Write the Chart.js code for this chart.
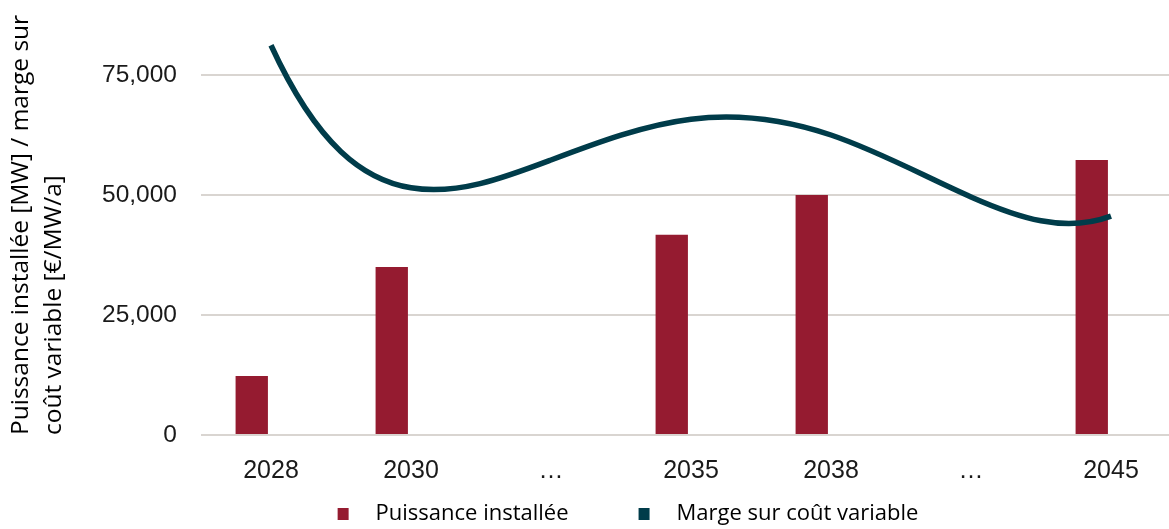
<!DOCTYPE html>
<html><head><meta charset="utf-8">
<script src="https://cdn.jsdelivr.net/npm/chart.js@4.4.1/dist/chart.umd.min.js"></script>
<style>
html,body{margin:0;padding:0;background:#fff;overflow:hidden;width:1169px;height:529px}
#wrap{position:absolute;left:0;top:0;width:1181px;height:535px}
</style>
</head><body><div id="wrap"><canvas id="c" width="1181" height="535"></canvas></div>
<script>
// ---- data ----
const categories = ['2028', '2030', '…', '2035', '2038', '…', '2045'];
const puissanceInstallee = [12300, 35000, null, 41700, 50000, null, 57300];
const margeCoutVariable = [81200, 51500, 57300, 65800, 62500, 49600, 45600];
const yTickValues = [0, 25000, 50000, 75000];
const yMax = 87500;
const seriesNames = ['Puissance installée', 'Marge sur coût variable'];
const axisTitle = ['Puissance installée [MW] / marge sur', 'coût variable [€/MW/a]'];

const BAR_COLOR = '#951b30';
const LINE_COLOR = '#003c4a';
const GRID_COLOR = '#d9d5d1';
const TEXT_COLOR = '#1a1a1a';

// legend marker: small square with space on its left to reproduce the spacing
function legendMarker(color) {
  const c = document.createElement('canvas');
  c.width = 97; c.height = 12;
  const g = c.getContext('2d');
  g.fillStyle = color;
  g.fillRect(70, 0, 11, 12);
  return c;
}

// smooth line like a polynomial trend through the points (tangents of the interpolating polynomial)
const polySmooth = {
  id: 'polySmooth',
  beforeDatasetDraw(chart, args) {
    const meta = args.meta;
    if (meta.type !== 'line' || !meta.dataset) return;
    const pts = meta.data;
    const n = pts.length;
    const xs = pts.map(p => p.x), ys = pts.map(p => p.y);
    const w = xs.map((xi, i) => {
      let prod = 1;
      for (let k = 0; k < n; k++) if (k !== i) prod *= (xi - xs[k]);
      return 1 / prod;
    });
    const d = xs.map((xi, i) => {
      let s = 0;
      for (let j = 0; j < n; j++) if (j !== i) s += (w[j] / w[i]) / (xi - xs[j]) * (ys[j] - ys[i]);
      return s;
    });
    for (let i = 0; i < n; i++) {
      const p = pts[i];
      const hp = i > 0 ? (xs[i] - xs[i - 1]) / 3 : 0;
      const hn = i < n - 1 ? (xs[i + 1] - xs[i]) / 3 : 0;
      p.cp1x = xs[i] - hp; p.cp1y = ys[i] - d[i] * hp;
      p.cp2x = xs[i] + hn; p.cp2y = ys[i] + d[i] * hn;
    }
    meta.dataset._pointsUpdated = true;
    meta.dataset._path = undefined;
  }
};

new Chart(document.getElementById('c'), {
  data: {
    labels: categories,
    datasets: [
      {
        type: 'bar', label: seriesNames[0], data: puissanceInstallee,
        backgroundColor: BAR_COLOR, borderWidth: 0, order: 1
      },
      {
        type: 'line', label: seriesNames[1], data: margeCoutVariable,
        borderColor: LINE_COLOR, backgroundColor: LINE_COLOR, borderWidth: 5.5,
        pointRadius: 0, pointHoverRadius: 0, tension: 0.4, fill: false, order: 0
      },
      {
        type: 'bar', label: '', data: categories.map(() => null),
        backgroundColor: 'rgba(0,0,0,0)', borderWidth: 0, order: 2
      }
    ]
  },
  options: {
    responsive: false,
    animation: false,
    layout: { padding: { left: 5, top: 15, right: 0, bottom: 0 } },
    datasets: { bar: { categoryPercentage: 0.55, barPercentage: 0.84 } },
    plugins: {
      tooltip: { enabled: false },
      legend: {
        position: 'bottom',
        labels: {
          font: { family: 'Open Sans', size: 22, weight: '500' },
          color: '#000',
          usePointStyle: true,
          pointStyleWidth: 97,
          padding: 0,
          sort: (a, b) => a.datasetIndex - b.datasetIndex,
          generateLabels(chart) {
            const items = Chart.defaults.plugins.legend.labels.generateLabels(chart)
              .filter(it => it.text);
            items.forEach(it => {
              const ds = chart.data.datasets[it.datasetIndex];
              it.pointStyle = legendMarker(ds.type === 'line' ? LINE_COLOR : BAR_COLOR);
            });
            return items;
          }
        }
      }
    },
    scales: {
      x: {
        grid: { display: false },
        border: { display: false },
        ticks: {
          font: { family: 'Liberation Sans', size: 25 },
          color: TEXT_COLOR, padding: 13, maxRotation: 0, autoSkip: false
        },
        afterFit(scale) { scale.height = 68; }
      },
      y: {
        min: 0, max: yMax,
        grid: { color: GRID_COLOR, lineWidth: 2, drawTicks: false },
        border: { display: false },
        afterBuildTicks(scale) { scale.ticks = yTickValues.map(v => ({ value: v })); },
        ticks: {
          font: { family: 'Liberation Sans', size: 24.5 },
          color: TEXT_COLOR, padding: 24,
          callback: v => Number(v).toLocaleString('en-US')
        },
        title: {
          display: true, text: axisTitle, align: 'start', color: '#000',
          font: { family: 'Open Sans', size: 24.5, weight: '500', lineHeight: 1.33 },
          padding: { top: 0, bottom: 0 }
        },
        afterFit(scale) {
          scale.width = 196;
          scale.paddingTop = 0;
          scale.paddingBottom = 0;
        }
      }
    }
  },
  plugins: [polySmooth]
});
</script>
</body></html>
